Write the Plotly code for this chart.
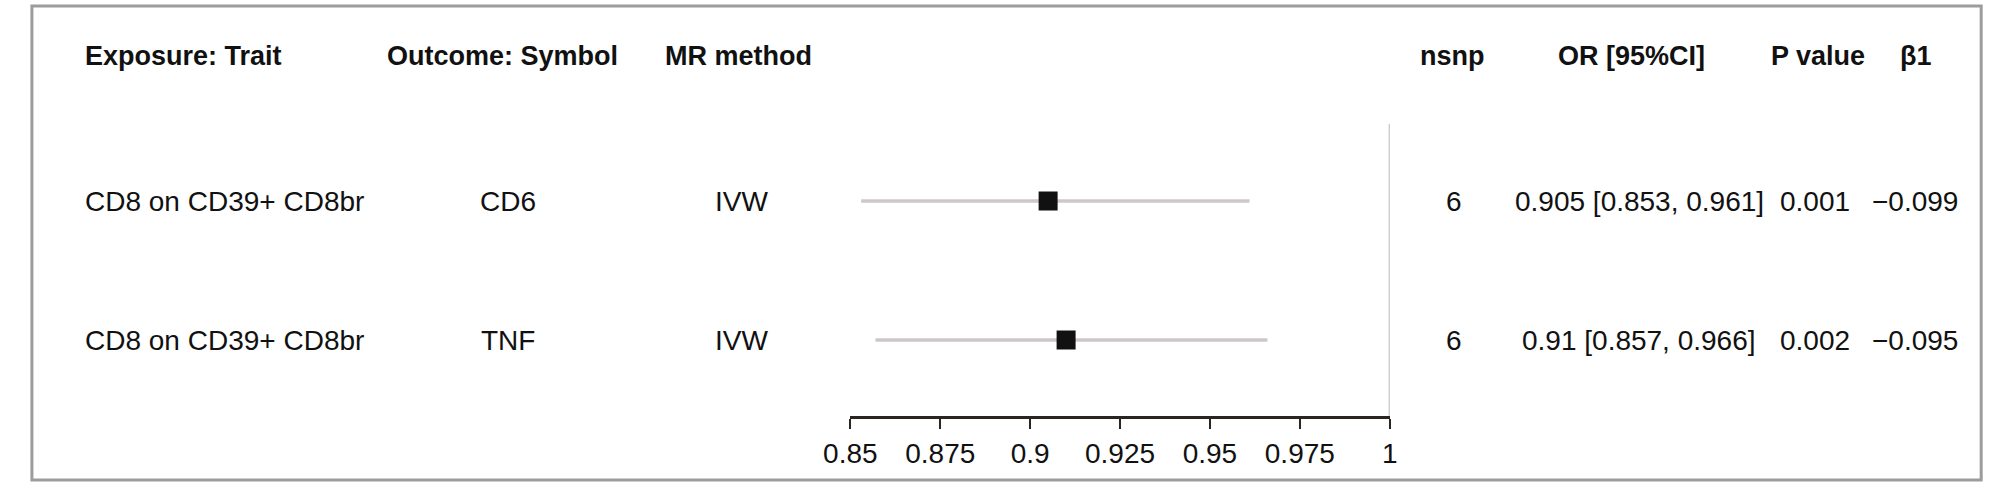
import plotly.graph_objects as go

# ---- data ----
exposure = ["CD8 on CD39+ CD8br", "CD8 on CD39+ CD8br"]
outcome = ["CD6", "TNF"]
method = ["IVW", "IVW"]
nsnp = [6, 6]
or_val = [0.905, 0.91]
ci_low = [0.853, 0.857]
ci_high = [0.961, 0.966]
p_val = [0.001, 0.002]
beta1 = [-0.099, -0.095]
headers = ["Exposure: Trait", "Outcome: Symbol", "MR method", "nsnp", "OR [95%CI]", "P value", "β1"]
tick_vals = [0.85, 0.875, 0.9, 0.925, 0.95, 0.975, 1]
tick_text = ["0.85", "0.875", "0.9", "0.925", "0.95", "0.975", "1"]

W, H = 2000, 486
FONT = "Liberation Sans, Arial, sans-serif"
TXT = "#111111"

rows = list(range(len(outcome)))


def px_x(px):
    return px / W


def px_y(py):
    return 1 - py / H


fig = go.Figure()

fig.add_trace(go.Scatter(
    x=or_val, y=rows, mode="markers",
    marker=dict(symbol="square", size=19, color="#111111", line=dict(width=0)),
    error_x=dict(type="data", symmetric=False,
                 array=[h - o for h, o in zip(ci_high, or_val)],
                 arrayminus=[o - l for o, l in zip(or_val, ci_low)],
                 color="#cfc7c7", thickness=3.5, width=0),
    showlegend=False, hoverinfo="skip",
))

annotations = []
header_x = [57, 484, 724, 1451, 1633, 1823, 1923]
header_anchor = ["left", "center", "center", "center", "center", "center", "center"]
for h, hx, anc in zip(headers, header_x, header_anchor):
    annotations.append(dict(x=px_x(hx), y=px_y(56), xref="paper", yref="paper",
                            text="<b>" + h + "</b>", showarrow=False, xanchor=anc, yanchor="middle",
                            font=dict(family=FONT, size=27, color=TXT)))

col_x = [57, 490, 727, 1452, 1641, 1820, 1922]
col_anchor = ["left", "center", "center", "center", "center", "center", "center"]
for i in rows:
    cells = [
        exposure[i],
        outcome[i],
        method[i],
        str(nsnp[i]),
        f"{or_val[i]:g} [{ci_low[i]:g}, {ci_high[i]:g}]",
        f"{p_val[i]:.3f}",
        f"{beta1[i]:.3f}".replace("-", "\u2212"),
    ]
    for c, cx, anc in zip(cells, col_x, col_anchor):
        annotations.append(dict(x=px_x(cx), y=i, xref="paper", yref="y",
                                text=c, showarrow=False, xanchor=anc, yanchor="middle",
                                font=dict(family=FONT, size=28, color=TXT)))

row0_px, row_gap = 201, 139
axis_px = 416
y_top = -row0_px / row_gap
y_bot = (axis_px - row0_px) / row_gap

shapes = [
    dict(type="line", xref="x", yref="paper", x0=1, x1=1,
         y0=px_y(124), y1=px_y(axis_px),
         line=dict(color="#bdb8b5", width=2)),
    dict(type="rect", xref="paper", yref="paper",
         x0=px_x(5), x1=px_x(1989), y0=px_y(480), y1=px_y(6),
         line=dict(color="#9c9c9c", width=3)),
]

fig.update_layout(
    width=W, height=H,
    margin=dict(l=0, r=0, t=0, b=0),
    paper_bgcolor="white", plot_bgcolor="white",
    xaxis=dict(domain=[px_x(838), px_x(1387)], range=[0.85, 1],
               tickvals=tick_vals, ticktext=tick_text,
               showline=True, linecolor="#2a2522", linewidth=3,
               ticks="outside", ticklen=10, tickwidth=2, tickcolor="#2a2522",
               showgrid=False, zeroline=False,
               tickfont=dict(family=FONT, size=28, color=TXT)),
    yaxis=dict(domain=[px_y(axis_px), 1], range=[y_bot, y_top],
               visible=False, showgrid=False, zeroline=False),
    annotations=annotations,
    shapes=shapes,
)

fig.write_html("out.html",
               post_script="document.body.style.margin='0';document.body.style.overflow='hidden';",
               config={"displayModeBar": False})
